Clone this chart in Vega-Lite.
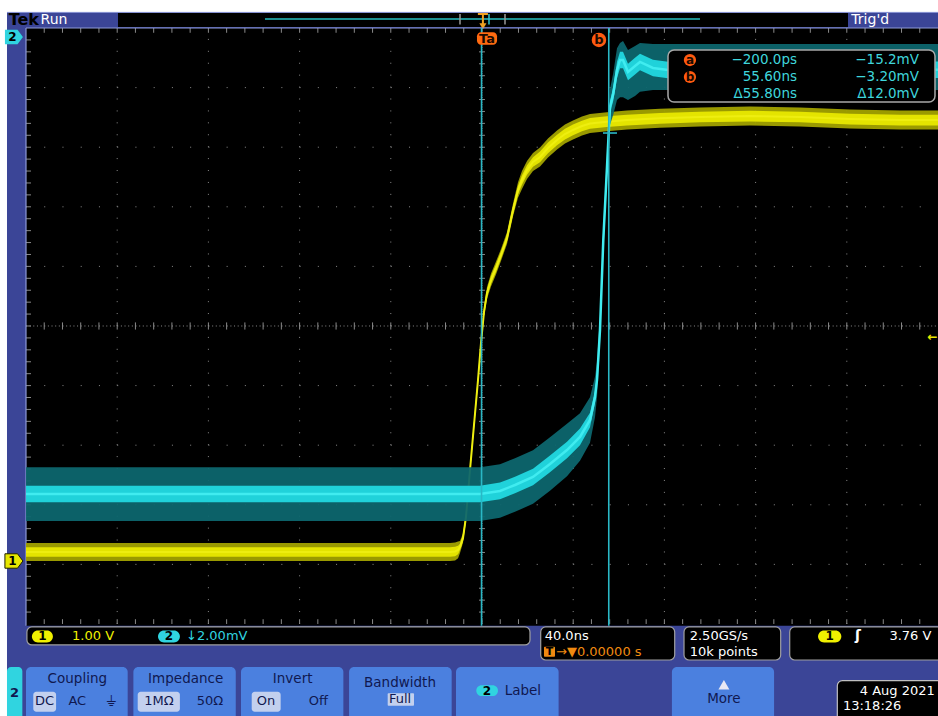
{
  "$schema": "https://vega.github.io/schema/vega-lite/v6.json",
  "width": 938,
  "height": 716,
  "autosize": {"type": "none"},
  "padding": 0,
  "background": "white",
  "config": {"view": {"stroke": null}, "axis": {"disable": true}, "text": {"font": "DejaVu Sans"}},
  "datasets": {
    "yellow": [
      {"t": -200, "v": -3.792, "lo": -3.942, "hi": -3.642, "c1": -3.872, "c2": -3.712},
      {"t": -100, "v": -3.792, "lo": -3.942, "hi": -3.642, "c1": -3.872, "c2": -3.712},
      {"t": -14.0, "v": -3.792, "lo": -3.942, "hi": -3.642, "c1": -3.872, "c2": -3.712},
      {"t": -11.8, "v": -3.783, "lo": -3.933, "hi": -3.633, "c1": -3.863, "c2": -3.703},
      {"t": -10.5, "v": -3.758, "lo": -3.898, "hi": -3.618, "c1": -3.828, "c2": -3.688},
      {"t": -9.65, "v": -3.708, "lo": -3.808, "hi": -3.608, "c1": -3.758, "c2": -3.658},
      {"t": -8.33, "v": -3.557, "lo": -3.637, "hi": -3.477, "c1": -3.607, "c2": -3.507},
      {"t": -7.02, "v": -3.205, "lo": -3.285, "hi": -3.125, "c1": -3.255, "c2": -3.155},
      {"t": -5.26, "v": -2.416, "lo": -2.496, "hi": -2.336, "c1": -2.466, "c2": -2.366},
      {"t": -3.51, "v": -1.661, "lo": -1.741, "hi": -1.581, "c1": -1.711, "c2": -1.611},
      {"t": -1.75, "v": -0.906, "lo": -0.986, "hi": -0.826, "c1": -0.956, "c2": -0.856},
      {"t": -0.44, "v": -0.285, "lo": -0.365, "hi": -0.205, "c1": -0.335, "c2": -0.235},
      {"t": 0.88, "v": 0.235, "lo": 0.155, "hi": 0.315, "c1": 0.185, "c2": 0.285},
      {"t": 2.19, "v": 0.554, "lo": 0.454, "hi": 0.654, "c1": 0.494, "c2": 0.614},
      {"t": 3.95, "v": 0.772, "lo": 0.662, "hi": 0.882, "c1": 0.707, "c2": 0.837},
      {"t": 6.14, "v": 0.973, "lo": 0.863, "hi": 1.083, "c1": 0.908, "c2": 1.038},
      {"t": 8.33, "v": 1.191, "lo": 1.091, "hi": 1.291, "c1": 1.131, "c2": 1.251},
      {"t": 10.97, "v": 1.477, "lo": 1.377, "hi": 1.577, "c1": 1.417, "c2": 1.537},
      {"t": 13.6, "v": 1.946, "lo": 1.836, "hi": 2.056, "c1": 1.881, "c2": 2.011},
      {"t": 15.79, "v": 2.282, "lo": 2.152, "hi": 2.412, "c1": 2.212, "c2": 2.352},
      {"t": 17.54, "v": 2.45, "lo": 2.3, "hi": 2.6, "c1": 2.37, "c2": 2.53},
      {"t": 19.74, "v": 2.617, "lo": 2.467, "hi": 2.767, "c1": 2.537, "c2": 2.697},
      {"t": 22.37, "v": 2.752, "lo": 2.602, "hi": 2.902, "c1": 2.672, "c2": 2.832},
      {"t": 25.44, "v": 2.836, "lo": 2.676, "hi": 2.996, "c1": 2.746, "c2": 2.926},
      {"t": 28.95, "v": 2.987, "lo": 2.827, "hi": 3.147, "c1": 2.897, "c2": 3.077},
      {"t": 32.9, "v": 3.121, "lo": 2.961, "hi": 3.281, "c1": 3.031, "c2": 3.211},
      {"t": 36.4, "v": 3.221, "lo": 3.061, "hi": 3.381, "c1": 3.131, "c2": 3.311},
      {"t": 39.91, "v": 3.289, "lo": 3.129, "hi": 3.449, "c1": 3.199, "c2": 3.379},
      {"t": 43.86, "v": 3.356, "lo": 3.196, "hi": 3.516, "c1": 3.266, "c2": 3.446},
      {"t": 47.37, "v": 3.398, "lo": 3.238, "hi": 3.558, "c1": 3.308, "c2": 3.488},
      {"t": 54.82, "v": 3.428, "lo": 3.268, "hi": 3.588, "c1": 3.338, "c2": 3.518},
      {"t": 63.6, "v": 3.456, "lo": 3.296, "hi": 3.616, "c1": 3.366, "c2": 3.546},
      {"t": 78.07, "v": 3.485, "lo": 3.325, "hi": 3.645, "c1": 3.395, "c2": 3.575},
      {"t": 95.61, "v": 3.507, "lo": 3.347, "hi": 3.667, "c1": 3.417, "c2": 3.597},
      {"t": 117.54, "v": 3.523, "lo": 3.363, "hi": 3.683, "c1": 3.433, "c2": 3.613},
      {"t": 139.47, "v": 3.507, "lo": 3.347, "hi": 3.667, "c1": 3.417, "c2": 3.597},
      {"t": 161.4, "v": 3.473, "lo": 3.313, "hi": 3.633, "c1": 3.383, "c2": 3.563},
      {"t": 183.33, "v": 3.456, "lo": 3.296, "hi": 3.616, "c1": 3.366, "c2": 3.546},
      {"t": 200, "v": 3.456, "lo": 3.296, "hi": 3.616, "c1": 3.366, "c2": 3.546}
    ],
    "cyan": [
      {"t": -200, "v": -2.819, "lo": -3.27, "hi": -2.37, "c1": -2.959, "c2": -2.679},
      {"t": -100, "v": -2.819, "lo": -3.27, "hi": -2.37, "c1": -2.959, "c2": -2.679},
      {"t": -0.88, "v": -2.819, "lo": -3.27, "hi": -2.37, "c1": -2.959, "c2": -2.679},
      {"t": 7.89, "v": -2.768, "lo": -3.218, "hi": -2.318, "c1": -2.908, "c2": -2.628},
      {"t": 14.47, "v": -2.668, "lo": -3.118, "hi": -2.218, "c1": -2.808, "c2": -2.528},
      {"t": 22.37, "v": -2.534, "lo": -2.984, "hi": -2.084, "c1": -2.674, "c2": -2.394},
      {"t": 29.82, "v": -2.315, "lo": -2.765, "hi": -1.865, "c1": -2.455, "c2": -2.175},
      {"t": 37.28, "v": -2.081, "lo": -2.521, "hi": -1.641, "c1": -2.221, "c2": -1.941},
      {"t": 42.98, "v": -1.862, "lo": -2.262, "hi": -1.462, "c1": -2.002, "c2": -1.722},
      {"t": 47.37, "v": -1.577, "lo": -1.957, "hi": -1.197, "c1": -1.697, "c2": -1.457},
      {"t": 49.56, "v": -1.191, "lo": -1.531, "hi": -0.851, "c1": -1.291, "c2": -1.091},
      {"t": 50.44, "v": -0.906, "lo": -1.206, "hi": -0.606, "c1": -1.006, "c2": -0.806},
      {"t": 51.75, "v": -0.067, "lo": -0.317, "hi": 0.183, "c1": -0.167, "c2": 0.033},
      {"t": 53.2, "v": 1.443, "lo": 1.193, "hi": 1.693, "c1": 1.343, "c2": 1.543},
      {"t": 54.69, "v": 2.567, "lo": 2.317, "hi": 2.817, "c1": 2.467, "c2": 2.667},
      {"t": 56.14, "v": 3.674, "lo": 3.374, "hi": 3.974, "c1": 3.574, "c2": 3.774},
      {"t": 57.59, "v": 3.9, "lo": 3.55, "hi": 4.25, "c1": 3.78, "c2": 4.02},
      {"t": 59.21, "v": 4.295, "lo": 3.79, "hi": 4.66, "c1": 4.155, "c2": 4.435},
      {"t": 60.53, "v": 4.463, "lo": 3.84, "hi": 4.75, "c1": 4.323, "c2": 4.603},
      {"t": 61.85, "v": 4.463, "lo": 3.84, "hi": 4.78, "c1": 4.323, "c2": 4.603},
      {"t": 64.04, "v": 4.262, "lo": 3.79, "hi": 4.63, "c1": 4.122, "c2": 4.402},
      {"t": 67.11, "v": 4.362, "lo": 3.86, "hi": 4.7, "c1": 4.222, "c2": 4.502},
      {"t": 69.3, "v": 4.43, "lo": 3.93, "hi": 4.75, "c1": 4.29, "c2": 4.57},
      {"t": 75.0, "v": 4.329, "lo": 3.96, "hi": 4.73, "c1": 4.189, "c2": 4.469},
      {"t": 81.58, "v": 4.295, "lo": 3.96, "hi": 4.73, "c1": 4.155, "c2": 4.435},
      {"t": 95.61, "v": 4.3, "lo": 3.96, "hi": 4.73, "c1": 4.16, "c2": 4.44},
      {"t": 200, "v": 4.3, "lo": 3.96, "hi": 4.73, "c1": 4.16, "c2": 4.44}
    ],
    "cursors": [{"name": "a", "t": -0.2}, {"name": "b", "t": 55.6}],
    "vg": [{"t": -160}, {"t": -120}, {"t": -80}, {"t": -40}, {"t": 40}, {"t": 80}, {"t": 120}, {"t": 160}],
    "hg": [{"v": -4}, {"v": -3}, {"v": -2}, {"v": -1}, {"v": 1}, {"v": 2}, {"v": 3}, {"v": 4}],
    "tx": [{"t": -192}, {"t": -184}, {"t": -176}, {"t": -168}, {"t": -160}, {"t": -152}, {"t": -144}, {"t": -136}, {"t": -128}, {"t": -120}, {"t": -112}, {"t": -104}, {"t": -96}, {"t": -88}, {"t": -80}, {"t": -72}, {"t": -64}, {"t": -56}, {"t": -48}, {"t": -40}, {"t": -32}, {"t": -24}, {"t": -16}, {"t": -8}, {"t": 0}, {"t": 8}, {"t": 16}, {"t": 24}, {"t": 32}, {"t": 40}, {"t": 48}, {"t": 56}, {"t": 64}, {"t": 72}, {"t": 80}, {"t": 88}, {"t": 96}, {"t": 104}, {"t": 112}, {"t": 120}, {"t": 128}, {"t": 136}, {"t": 144}, {"t": 152}, {"t": 160}, {"t": 168}, {"t": 176}, {"t": 184}, {"t": 192}],
    "ty": [{"v": -4.8}, {"v": -4.6}, {"v": -4.4}, {"v": -4.2}, {"v": -4.0}, {"v": -3.8}, {"v": -3.6}, {"v": -3.4}, {"v": -3.2}, {"v": -3.0}, {"v": -2.8}, {"v": -2.6}, {"v": -2.4}, {"v": -2.2}, {"v": -2.0}, {"v": -1.8}, {"v": -1.6}, {"v": -1.4}, {"v": -1.2}, {"v": -1.0}, {"v": -0.8}, {"v": -0.6}, {"v": -0.4}, {"v": -0.2}, {"v": 0}, {"v": 0.2}, {"v": 0.4}, {"v": 0.6}, {"v": 0.8}, {"v": 1.0}, {"v": 1.2}, {"v": 1.4}, {"v": 1.6}, {"v": 1.8}, {"v": 2.0}, {"v": 2.2}, {"v": 2.4}, {"v": 2.6}, {"v": 2.8}, {"v": 3.0}, {"v": 3.2}, {"v": 3.4}, {"v": 3.6}, {"v": 3.8}, {"v": 4.0}, {"v": 4.2}, {"v": 4.4}, {"v": 4.6}, {"v": 4.8}]
  },
  "data": {"values": [{}]},
  "layer": [
    {"mark": {"type": "rect", "fill": "#3b4597"}, "encoding": {
      "x": {"datum": -208.33, "type": "quantitative", "scale": {"domain": [-211.4, 200], "nice": false, "zero": false}},
      "x2": {"datum": 201},
      "y": {"datum": -6.6, "type": "quantitative", "scale": {"domain": [-6.544, 5.47], "nice": false, "zero": false}},
      "y2": {"datum": 5.268}}},
    {"mark": {"type": "rect", "fill": "#000000"}, "encoding": {"x": {"datum": -200}, "x2": {"datum": 201}, "y": {"datum": -5.03}, "y2": {"datum": 5.0}}},
    {"mark": {"type": "rect", "fill": "#000000"}, "encoding": {"x": {"datum": -159.65}, "x2": {"datum": 160.53}, "y": {"datum": 5.017}, "y2": {"datum": 5.252}}},
    {"mark": {"type": "rule", "color": "#8e9ad8", "strokeWidth": 1}, "encoding": {"x": {"datum": -208.33}, "x2": {"datum": 201}, "y": {"datum": 5.262}}},
    {"mark": {"type": "rule", "color": "#1d8f92", "strokeWidth": 2}, "encoding": {"x": {"datum": -95.18}, "x2": {"datum": 95.61}, "y": {"datum": 5.151}}},
    {"mark": {"type": "rule", "color": "#9a9a9a", "strokeWidth": 1.5}, "encoding": {"x": {"datum": -9.65}, "y": {"datum": 5.06}, "y2": {"datum": 5.235}}},
    {"mark": {"type": "rule", "color": "#9a9a9a", "strokeWidth": 1.5}, "encoding": {"x": {"datum": 10.09}, "y": {"datum": 5.06}, "y2": {"datum": 5.235}}},
    {"mark": {"type": "rule", "color": "#2fc4cc", "strokeWidth": 1.5}, "encoding": {"x": {"datum": 3.07}, "y": {"datum": 5.06}, "y2": {"datum": 5.235}}},
    {"mark": {"type": "rule", "color": "#f0a020", "strokeWidth": 2}, "encoding": {"x": {"datum": 0.4}, "y": {"datum": 5.03}, "y2": {"datum": 5.235}}},
    {"mark": {"type": "rule", "color": "#f0a020", "strokeWidth": 2}, "encoding": {"x": {"datum": -1.8}, "x2": {"datum": 2.6}, "y": {"datum": 5.235}}},
    {"mark": {"type": "point", "shape": "triangle-down", "filled": true, "color": "#f0a020", "size": 50, "opacity": 1}, "encoding": {"x": {"datum": 0.4}, "y": {"datum": 5.03}}},
    {"mark": {"type": "text", "text": "Tek", "color": "#000000", "fontSize": 16, "fontWeight": "bold", "align": "left", "baseline": "middle"}, "encoding": {"x": {"datum": -207.6}, "y": {"datum": 5.13}}},
    {"mark": {"type": "text", "text": "Run", "color": "#ffffff", "fontSize": 14, "align": "left", "baseline": "middle"}, "encoding": {"x": {"datum": -193.6}, "y": {"datum": 5.13}}},
    {"mark": {"type": "text", "text": "Trig'd", "color": "#ffffff", "fontSize": 14, "align": "left", "baseline": "middle"}, "encoding": {"x": {"datum": 162.0}, "y": {"datum": 5.13}}},

    {"data": {"name": "vg"}, "mark": {"type": "rule", "color": "#8a8a8a", "strokeWidth": 1, "strokeDash": [1, 10.92]}, "encoding": {"x": {"field": "t", "type": "quantitative"}, "y": {"datum": -5}, "y2": {"datum": 5}}},
    {"data": {"name": "hg"}, "mark": {"type": "rule", "color": "#8a8a8a", "strokeWidth": 1, "strokeDash": [1, 17.24]}, "encoding": {"y": {"field": "v", "type": "quantitative"}, "x": {"datum": -200}, "x2": {"datum": 200}}},
    {"mark": {"type": "rule", "color": "#8a8a8a", "strokeWidth": 1, "strokeDash": [1, 2.65]}, "encoding": {"y": {"datum": 0}, "x": {"datum": -200}, "x2": {"datum": 200}}},
    {"mark": {"type": "rule", "color": "#8a8a8a", "strokeWidth": 1, "strokeDash": [1, 1.38]}, "encoding": {"x": {"datum": 0}, "y": {"datum": -5}, "y2": {"datum": 5}}},
    {"data": {"name": "tx"}, "mark": {"type": "rule", "color": "#8a8a8a", "strokeWidth": 1}, "encoding": {"x": {"field": "t", "type": "quantitative"}, "y": {"datum": -0.06}, "y2": {"datum": 0.06}}},
    {"data": {"name": "tx"}, "mark": {"type": "rule", "color": "#8a8a8a", "strokeWidth": 1}, "encoding": {"x": {"field": "t", "type": "quantitative"}, "y": {"datum": 5}, "y2": {"datum": 4.92}}},
    {"data": {"name": "tx"}, "mark": {"type": "rule", "color": "#8a8a8a", "strokeWidth": 1}, "encoding": {"x": {"field": "t", "type": "quantitative"}, "y": {"datum": -5}, "y2": {"datum": -4.92}}},
    {"data": {"name": "ty"}, "mark": {"type": "rule", "color": "#8a8a8a", "strokeWidth": 1}, "encoding": {"y": {"field": "v", "type": "quantitative"}, "x": {"datum": -1.3}, "x2": {"datum": 1.3}}},
    {"data": {"name": "ty"}, "mark": {"type": "rule", "color": "#8a8a8a", "strokeWidth": 1}, "encoding": {"y": {"field": "v", "type": "quantitative"}, "x": {"datum": -200}, "x2": {"datum": -197.8}}},
    {"mark": {"type": "rule", "color": "#8e9ad8", "strokeWidth": 1.2}, "encoding": {"x": {"datum": -200}, "x2": {"datum": 201}, "y": {"datum": 5.0}}},
    {"mark": {"type": "rule", "color": "#8e9ad8", "strokeWidth": 1.2}, "encoding": {"x": {"datum": -200}, "y": {"datum": -5.03}, "y2": {"datum": 5.0}}},

    {"data": {"name": "yellow"}, "mark": {"type": "area", "color": "#a2a200", "opacity": 0.95}, "encoding": {"x": {"field": "t", "type": "quantitative"}, "y": {"field": "lo", "type": "quantitative"}, "y2": {"field": "hi"}}},
    {"data": {"name": "yellow"}, "mark": {"type": "area", "color": "#e4e400", "opacity": 1}, "encoding": {"x": {"field": "t", "type": "quantitative"}, "y": {"field": "c1", "type": "quantitative"}, "y2": {"field": "c2"}}},
    {"data": {"name": "yellow"}, "mark": {"type": "line", "color": "#eeee10", "strokeWidth": 2}, "encoding": {"x": {"field": "t", "type": "quantitative"}, "y": {"field": "v", "type": "quantitative"}}},
    {"data": {"name": "cyan"}, "mark": {"type": "area", "color": "#0d666e", "opacity": 0.95}, "encoding": {"x": {"field": "t", "type": "quantitative"}, "y": {"field": "lo", "type": "quantitative"}, "y2": {"field": "hi"}}},
    {"data": {"name": "cyan"}, "mark": {"type": "area", "color": "#20d2da", "opacity": 1}, "encoding": {"x": {"field": "t", "type": "quantitative"}, "y": {"field": "c1", "type": "quantitative"}, "y2": {"field": "c2"}}},
    {"data": {"name": "cyan"}, "mark": {"type": "line", "color": "#40ecf0", "strokeWidth": 2.5}, "encoding": {"x": {"field": "t", "type": "quantitative"}, "y": {"field": "v", "type": "quantitative"}}},

    {"data": {"name": "cursors"}, "mark": {"type": "rule", "color": "#2ab8c6", "strokeWidth": 1.6}, "encoding": {"x": {"field": "t", "type": "quantitative"}, "y": {"datum": -5.03}, "y2": {"datum": 5.0}}},
    {"mark": {"type": "rule", "color": "#2ab8c6", "strokeWidth": 1.6}, "encoding": {"x": {"datum": 53.07}, "x2": {"datum": 59.2}, "y": {"datum": 3.238}}},
    {"mark": {"type": "rect", "fill": "#ff6a10", "cornerRadius": 4}, "encoding": {"x": {"datum": -2.2}, "x2": {"datum": 6.6}, "y": {"datum": 4.72}, "y2": {"datum": 4.93}}},
    {"mark": {"type": "text", "text": "Ta", "color": "#1a0a00", "fontSize": 13, "fontWeight": "bold", "align": "center", "baseline": "middle"}, "encoding": {"x": {"datum": 2.2}, "y": {"datum": 4.82}}},
    {"mark": {"type": "point", "shape": "circle", "filled": true, "color": "#ff5a10", "size": 210, "opacity": 1}, "encoding": {"x": {"datum": 51.3}, "y": {"datum": 4.8}}},
    {"mark": {"type": "text", "text": "b", "color": "#1a0a00", "fontSize": 13, "fontWeight": "bold", "align": "center", "baseline": "middle"}, "encoding": {"x": {"datum": 51.3}, "y": {"datum": 4.8}}},

    {"mark": {"type": "rect", "fill": "#000000", "stroke": "#a8a8a8", "strokeWidth": 1.5, "cornerRadius": 6}, "encoding": {"x": {"datum": 81.58}, "x2": {"datum": 198.68}, "y": {"datum": 3.758}, "y2": {"datum": 4.631}}},
    {"mark": {"type": "point", "shape": "circle", "filled": true, "color": "#ff5a10", "size": 150, "opacity": 1}, "encoding": {"x": {"datum": 91.2}, "y": {"datum": 4.463}}},
    {"mark": {"type": "point", "shape": "circle", "filled": true, "color": "#ff5a10", "size": 150, "opacity": 1}, "encoding": {"x": {"datum": 91.2}, "y": {"datum": 4.178}}},
    {"mark": {"type": "text", "text": "a", "color": "#1a0a00", "fontSize": 12, "fontWeight": "bold", "align": "center", "baseline": "middle"}, "encoding": {"x": {"datum": 91.2}, "y": {"datum": 4.47}}},
    {"mark": {"type": "text", "text": "b", "color": "#1a0a00", "fontSize": 12, "fontWeight": "bold", "align": "center", "baseline": "middle"}, "encoding": {"x": {"datum": 91.2}, "y": {"datum": 4.185}}},
    {"mark": {"type": "text", "text": "−200.0ps", "color": "#3fd6dc", "fontSize": 13.5, "align": "right", "baseline": "middle"}, "encoding": {"x": {"datum": 138.16}, "y": {"datum": 4.463}}},
    {"mark": {"type": "text", "text": "55.60ns", "color": "#3fd6dc", "fontSize": 13.5, "align": "right", "baseline": "middle"}, "encoding": {"x": {"datum": 138.16}, "y": {"datum": 4.178}}},
    {"mark": {"type": "text", "text": "Δ55.80ns", "color": "#3fd6dc", "fontSize": 13.5, "align": "right", "baseline": "middle"}, "encoding": {"x": {"datum": 138.16}, "y": {"datum": 3.893}}},
    {"mark": {"type": "text", "text": "−15.2mV", "color": "#3fd6dc", "fontSize": 13.5, "align": "right", "baseline": "middle"}, "encoding": {"x": {"datum": 191.67}, "y": {"datum": 4.463}}},
    {"mark": {"type": "text", "text": "−3.20mV", "color": "#3fd6dc", "fontSize": 13.5, "align": "right", "baseline": "middle"}, "encoding": {"x": {"datum": 191.67}, "y": {"datum": 4.178}}},
    {"mark": {"type": "text", "text": "Δ12.0mV", "color": "#3fd6dc", "fontSize": 13.5, "align": "right", "baseline": "middle"}, "encoding": {"x": {"datum": 191.67}, "y": {"datum": 3.893}}},

    {"mark": {"type": "point", "shape": "M-1,-0.8L0.4,-0.8L1,0L0.4,0.8L-1,0.8Z", "filled": true, "color": "#30d4e0", "size": 324, "opacity": 1}, "encoding": {"x": {"datum": -205.3}, "y": {"datum": 4.849}}},
    {"mark": {"type": "text", "text": "2", "color": "#000000", "fontSize": 12, "fontWeight": "bold", "align": "center", "baseline": "middle"}, "encoding": {"x": {"datum": -206.0}, "y": {"datum": 4.849}}},
    {"mark": {"type": "point", "shape": "M-1,-0.8L0.4,-0.8L1,0L0.4,0.8L-1,0.8Z", "filled": true, "color": "#e8e800", "stroke": "#202000", "strokeWidth": 1, "size": 324, "opacity": 1}, "encoding": {"x": {"datum": -205.3}, "y": {"datum": -3.943}}},
    {"mark": {"type": "text", "text": "1", "color": "#000000", "fontSize": 12, "fontWeight": "bold", "align": "center", "baseline": "middle"}, "encoding": {"x": {"datum": -206.0}, "y": {"datum": -3.943}}},
    {"mark": {"type": "text", "text": "←", "color": "#e8e800", "fontSize": 12, "fontWeight": "bold", "align": "center", "baseline": "middle"}, "encoding": {"x": {"datum": 197.6}, "y": {"datum": -0.185}}},

    {"mark": {"type": "rect", "fill": "#000000", "stroke": "#a0a0a0", "strokeWidth": 1.2, "cornerRadius": 5}, "encoding": {"x": {"datum": -199.6}, "x2": {"datum": 21.05}, "y": {"datum": -5.352}, "y2": {"datum": -5.05}}},
    {"mark": {"type": "rect", "fill": "#f0f000", "cornerRadius": 6}, "encoding": {"x": {"datum": -197.4}, "x2": {"datum": -188.2}, "y": {"datum": -5.31}, "y2": {"datum": -5.109}}},
    {"mark": {"type": "text", "text": "1", "color": "#000000", "fontSize": 12, "fontWeight": "bold", "align": "center", "baseline": "middle"}, "encoding": {"x": {"datum": -192.8}, "y": {"datum": -5.205}}},
    {"mark": {"type": "text", "text": "1.00 V", "color": "#f0f000", "fontSize": 13, "align": "left", "baseline": "middle"}, "encoding": {"x": {"datum": -179.8}, "y": {"datum": -5.2}}},
    {"mark": {"type": "rect", "fill": "#30d4e0", "cornerRadius": 6}, "encoding": {"x": {"datum": -142.1}, "x2": {"datum": -132.5}, "y": {"datum": -5.31}, "y2": {"datum": -5.109}}},
    {"mark": {"type": "text", "text": "2", "color": "#000000", "fontSize": 12, "fontWeight": "bold", "align": "center", "baseline": "middle"}, "encoding": {"x": {"datum": -137.3}, "y": {"datum": -5.205}}},
    {"mark": {"type": "text", "text": "↓2.00mV", "color": "#30d4e0", "fontSize": 13, "align": "left", "baseline": "middle"}, "encoding": {"x": {"datum": -129.8}, "y": {"datum": -5.2}}},

    {"mark": {"type": "rect", "fill": "#000000", "stroke": "#a0a0a0", "strokeWidth": 1.2, "cornerRadius": 5}, "encoding": {"x": {"datum": 25.75}, "x2": {"datum": 84.52}, "y": {"datum": -5.604}, "y2": {"datum": -5.05}}},
    {"mark": {"type": "text", "text": "40.0ns", "color": "#ffffff", "fontSize": 13, "align": "left", "baseline": "middle"}, "encoding": {"x": {"datum": 27.5}, "y": {"datum": -5.196}}},
    {"mark": {"type": "rect", "fill": "#f08a10", "cornerRadius": 1}, "encoding": {"x": {"datum": 27.19}, "x2": {"datum": 32.02}, "y": {"datum": -5.549}, "y2": {"datum": -5.381}}},
    {"mark": {"type": "text", "text": "T", "color": "#000000", "fontSize": 11, "fontWeight": "bold", "align": "center", "baseline": "middle"}, "encoding": {"x": {"datum": 29.6}, "y": {"datum": -5.465}}},
    {"mark": {"type": "text", "text": "→▼0.00000 s", "color": "#f08a10", "fontSize": 13, "align": "left", "baseline": "middle"}, "encoding": {"x": {"datum": 32.46}, "y": {"datum": -5.465}}},

    {"mark": {"type": "rect", "fill": "#000000", "stroke": "#a0a0a0", "strokeWidth": 1.2, "cornerRadius": 5}, "encoding": {"x": {"datum": 88.6}, "x2": {"datum": 131.0}, "y": {"datum": -5.604}, "y2": {"datum": -5.05}}},
    {"mark": {"type": "text", "text": "2.50GS/s", "color": "#ffffff", "fontSize": 13, "align": "left", "baseline": "middle"}, "encoding": {"x": {"datum": 91.1}, "y": {"datum": -5.196}}},
    {"mark": {"type": "text", "text": "10k points", "color": "#ffffff", "fontSize": 13, "align": "left", "baseline": "middle"}, "encoding": {"x": {"datum": 91.1}, "y": {"datum": -5.465}}},

    {"mark": {"type": "rect", "fill": "#000000", "stroke": "#a0a0a0", "strokeWidth": 1.2, "cornerRadius": 5}, "encoding": {"x": {"datum": 134.96}, "x2": {"datum": 202}, "y": {"datum": -5.604}, "y2": {"datum": -5.05}}},
    {"mark": {"type": "rect", "fill": "#f0f000", "cornerRadius": 6}, "encoding": {"x": {"datum": 147.4}, "x2": {"datum": 157.6}, "y": {"datum": -5.31}, "y2": {"datum": -5.109}}},
    {"mark": {"type": "text", "text": "1", "color": "#000000", "fontSize": 12, "fontWeight": "bold", "align": "center", "baseline": "middle"}, "encoding": {"x": {"datum": 152.5}, "y": {"datum": -5.205}}},
    {"mark": {"type": "text", "text": "ʃ", "color": "#ffffff", "fontSize": 14, "fontWeight": "bold", "align": "center", "baseline": "middle"}, "encoding": {"x": {"datum": 164.9}, "y": {"datum": -5.2}}},
    {"mark": {"type": "text", "text": "3.76 V", "color": "#ffffff", "fontSize": 13, "align": "right", "baseline": "middle"}, "encoding": {"x": {"datum": 197.1}, "y": {"datum": -5.2}}},

    {"mark": {"type": "rect", "fill": "#30d4e0", "cornerRadius": 4}, "encoding": {"x": {"datum": -208.33}, "x2": {"datum": -201.6}, "y": {"datum": -6.7}, "y2": {"datum": -5.72}}},
    {"mark": {"type": "text", "text": "2", "color": "#101850", "fontSize": 13, "fontWeight": "bold", "align": "center", "baseline": "middle"}, "encoding": {"x": {"datum": -205.0}, "y": {"datum": -6.158}}},
    {"mark": {"type": "rect", "fill": "#4b80df", "cornerRadius": 5}, "encoding": {"x": {"datum": -200}, "x2": {"datum": -155.4}, "y": {"datum": -6.7}, "y2": {"datum": -5.72}}},
    {"mark": {"type": "rect", "fill": "#4b80df", "cornerRadius": 5}, "encoding": {"x": {"datum": -152.9}, "x2": {"datum": -108.0}, "y": {"datum": -6.7}, "y2": {"datum": -5.72}}},
    {"mark": {"type": "rect", "fill": "#4b80df", "cornerRadius": 5}, "encoding": {"x": {"datum": -105.7}, "x2": {"datum": -60.8}, "y": {"datum": -6.7}, "y2": {"datum": -5.72}}},
    {"mark": {"type": "rect", "fill": "#4b80df", "cornerRadius": 5}, "encoding": {"x": {"datum": -58.3}, "x2": {"datum": -13.3}, "y": {"datum": -6.7}, "y2": {"datum": -5.72}}},
    {"mark": {"type": "rect", "fill": "#4b80df", "cornerRadius": 5}, "encoding": {"x": {"datum": -11.4}, "x2": {"datum": 33.6}, "y": {"datum": -6.7}, "y2": {"datum": -5.72}}},
    {"mark": {"type": "rect", "fill": "#4b80df", "cornerRadius": 5}, "encoding": {"x": {"datum": 83.3}, "x2": {"datum": 128.1}, "y": {"datum": -6.7}, "y2": {"datum": -5.72}}},
    {"mark": {"type": "rect", "fill": "#c3d0ee", "cornerRadius": 3}, "encoding": {"x": {"datum": -196.8}, "x2": {"datum": -186.8}, "y": {"datum": -6.471}, "y2": {"datum": -6.136}}},
    {"mark": {"type": "rect", "fill": "#c3d0ee", "cornerRadius": 3}, "encoding": {"x": {"datum": -151.0}, "x2": {"datum": -132.5}, "y": {"datum": -6.471}, "y2": {"datum": -6.136}}},
    {"mark": {"type": "rect", "fill": "#c3d0ee", "cornerRadius": 3}, "encoding": {"x": {"datum": -101.0}, "x2": {"datum": -88.3}, "y": {"datum": -6.471}, "y2": {"datum": -6.136}}},
    {"mark": {"type": "rect", "fill": "#c3d0ee", "cornerRadius": 1}, "encoding": {"x": {"datum": -41.36}, "x2": {"datum": -29.82}, "y": {"datum": -6.371}, "y2": {"datum": -6.163}}},
    {"mark": {"type": "text", "text": "Coupling", "color": "#101850", "fontSize": 13.5, "align": "center", "baseline": "middle"}, "encoding": {"x": {"datum": -177.5}, "y": {"datum": -5.923}}},
    {"mark": {"type": "text", "text": "Impedance", "color": "#101850", "fontSize": 13.5, "align": "center", "baseline": "middle"}, "encoding": {"x": {"datum": -129.96}, "y": {"datum": -5.923}}},
    {"mark": {"type": "text", "text": "Invert", "color": "#101850", "fontSize": 13.5, "align": "center", "baseline": "middle"}, "encoding": {"x": {"datum": -83.04}, "y": {"datum": -5.923}}},
    {"mark": {"type": "text", "text": "Bandwidth", "color": "#101850", "fontSize": 13.5, "align": "center", "baseline": "middle"}, "encoding": {"x": {"datum": -35.96}, "y": {"datum": -5.985}}},
    {"mark": {"type": "text", "text": "Full", "color": "#101850", "fontSize": 13, "align": "center", "baseline": "middle"}, "encoding": {"x": {"datum": -35.96}, "y": {"datum": -6.262}}},
    {"mark": {"type": "text", "text": "DC", "color": "#101850", "fontSize": 13, "align": "center", "baseline": "middle"}, "encoding": {"x": {"datum": -191.9}, "y": {"datum": -6.29}}},
    {"mark": {"type": "text", "text": "AC", "color": "#101850", "fontSize": 13, "align": "center", "baseline": "middle"}, "encoding": {"x": {"datum": -177.5}, "y": {"datum": -6.29}}},
    {"mark": {"type": "text", "text": "⏚", "color": "#101850", "fontSize": 15, "align": "center", "baseline": "middle"}, "encoding": {"x": {"datum": -162.7}, "y": {"datum": -6.29}}},
    {"mark": {"type": "text", "text": "1MΩ", "color": "#101850", "fontSize": 13, "align": "center", "baseline": "middle"}, "encoding": {"x": {"datum": -141.7}, "y": {"datum": -6.29}}},
    {"mark": {"type": "text", "text": "50Ω", "color": "#101850", "fontSize": 13, "align": "center", "baseline": "middle"}, "encoding": {"x": {"datum": -119.3}, "y": {"datum": -6.29}}},
    {"mark": {"type": "text", "text": "On", "color": "#101850", "fontSize": 13, "align": "center", "baseline": "middle"}, "encoding": {"x": {"datum": -94.74}, "y": {"datum": -6.29}}},
    {"mark": {"type": "text", "text": "Off", "color": "#101850", "fontSize": 13, "align": "center", "baseline": "middle"}, "encoding": {"x": {"datum": -71.8}, "y": {"datum": -6.29}}},
    {"mark": {"type": "rect", "fill": "#30d4e0", "cornerRadius": 6}, "encoding": {"x": {"datum": -2.5}, "x2": {"datum": 7.0}, "y": {"datum": -6.208}, "y2": {"datum": -6.03}}},
    {"mark": {"type": "text", "text": "2", "color": "#000000", "fontSize": 12, "fontWeight": "bold", "align": "center", "baseline": "middle"}, "encoding": {"x": {"datum": 2.2}, "y": {"datum": -6.119}}},
    {"mark": {"type": "text", "text": "Label", "color": "#101850", "fontSize": 13.5, "align": "left", "baseline": "middle"}, "encoding": {"x": {"datum": 9.96}, "y": {"datum": -6.119}}},
    {"mark": {"type": "point", "shape": "triangle-up", "filled": true, "color": "#e8e8f4", "size": 120, "opacity": 1}, "encoding": {"x": {"datum": 106.1}, "y": {"datum": -6.02}}},
    {"mark": {"type": "text", "text": "More", "color": "#101850", "fontSize": 13.5, "align": "center", "baseline": "middle"}, "encoding": {"x": {"datum": 106.1}, "y": {"datum": -6.265}}},
    {"mark": {"type": "rect", "fill": "#000000", "stroke": "#c0c0c0", "strokeWidth": 1.2, "cornerRadius": 5}, "encoding": {"x": {"datum": 155.84}, "x2": {"datum": 202}, "y": {"datum": -6.7}, "y2": {"datum": -5.951}}},
    {"mark": {"type": "text", "text": "4 Aug 2021", "color": "#ffffff", "fontSize": 13, "align": "right", "baseline": "middle"}, "encoding": {"x": {"datum": 198.6}, "y": {"datum": -6.119}}},
    {"mark": {"type": "text", "text": "13:18:26", "color": "#ffffff", "fontSize": 13, "align": "left", "baseline": "middle"}, "encoding": {"x": {"datum": 158.3}, "y": {"datum": -6.371}}}
  ]
}
